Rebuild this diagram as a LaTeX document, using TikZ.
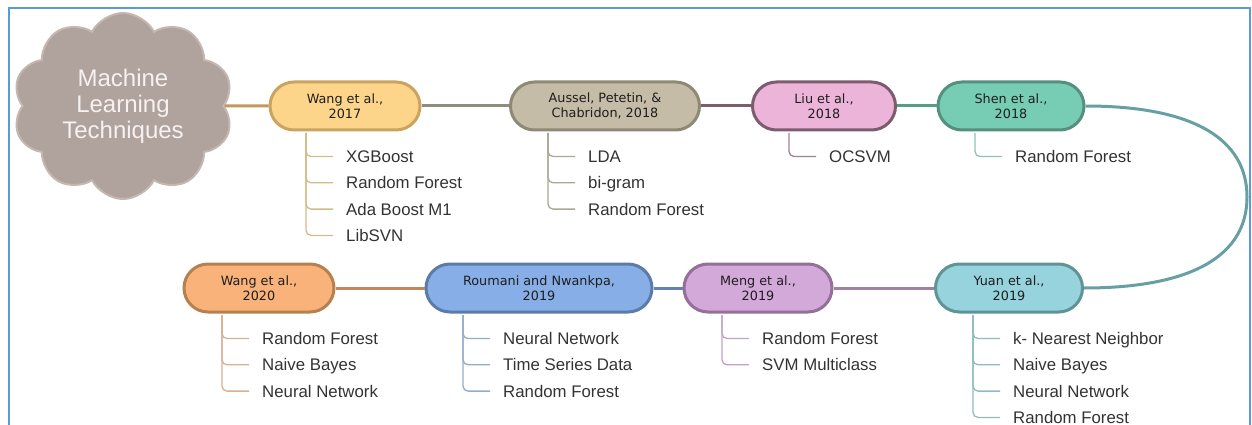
\documentclass[tikz,border=0pt]{standalone}
\usepackage{fontspec}
\setmainfont{Liberation Sans}
\newfontfamily\nodefont{DejaVu Sans}
\usetikzlibrary{shapes.misc,shapes.symbols,calc}

\definecolor{framec}{HTML}{5B9BD5}
\definecolor{cloudfill}{HTML}{B0A29D}
\definecolor{cloudedge}{HTML}{C4B7B2}
\definecolor{cloudtext}{HTML}{F6F2F1}
\definecolor{nodetext}{HTML}{1E1E1E}
\definecolor{leaftext}{HTML}{333333}
% node fills / borders
\definecolor{wAfill}{HTML}{FDD58A}\definecolor{wAedge}{HTML}{C9A461}\definecolor{wAleaf}{HTML}{D3BC88}
\definecolor{auFill}{HTML}{C4BCA7}\definecolor{auEdge}{HTML}{8D8975}\definecolor{auLeaf}{HTML}{ABA797}
\definecolor{liFill}{HTML}{ECB4D9}\definecolor{liEdge}{HTML}{7E5C70}\definecolor{liLeaf}{HTML}{9E8292}
\definecolor{shFill}{HTML}{76CDB3}\definecolor{shEdge}{HTML}{568F7E}\definecolor{shLeaf}{HTML}{8EC2B1}
\definecolor{wBfill}{HTML}{F8B27A}\definecolor{wBedge}{HTML}{B6804F}\definecolor{wBleaf}{HTML}{D6B192}
\definecolor{roFill}{HTML}{88AEE8}\definecolor{roEdge}{HTML}{5B7BA8}\definecolor{roLeaf}{HTML}{96ABCB}
\definecolor{meFill}{HTML}{D3A9D9}\definecolor{meEdge}{HTML}{946F97}\definecolor{meLeaf}{HTML}{C1A3C4}
\definecolor{yuFill}{HTML}{96D3DC}\definecolor{yuEdge}{HTML}{5F9396}\definecolor{yuLeaf}{HTML}{90BBBE}
% main line colours
\definecolor{lnA}{HTML}{C19A5B}
\definecolor{lnB}{HTML}{8E8C7A}
\definecolor{lnC}{HTML}{7E5C70}
\definecolor{lnD}{HTML}{569D86}
\definecolor{lnArc}{HTML}{66A0A2}
\definecolor{lnE}{HTML}{A380A3}
\definecolor{lnF}{HTML}{6183B3}
\definecolor{lnG}{HTML}{C0875A}

\tikzset{
  pill/.style={rounded rectangle, line width=3pt, minimum height=48, inner xsep=6,
    align=center, font=\nodefont\fontsize{12.8}{15.5}\selectfont, text=nodetext},
  mainline/.style={line width=3pt},
  leaf/.style={anchor=west, inner xsep=13, inner ysep=0, text height=12, text depth=0,
    font=\fontsize{16.8}{18}\selectfont, text=leaftext},
  branch/.style={line width=1.3pt, rounded corners=5}
}

\newcommand\mkleaves[4]{%
  \coordinate (#1-top) at ($(#1.south)+(#2,1.5)$);
  \foreach \t [count=\i] in {#4} {
    \node[leaf] (#1-\i) at ($(#1-top)+(27,{23.5+26.3*(\i-1)})$) {\t};
    \draw[branch,draw=#3] (#1-top) |- (#1-\i.west);
  }%
}

\begin{document}
\begin{tikzpicture}[x=1pt,y=-1pt]
\useasboundingbox (0,0) rectangle (1252,425);
\clip (0,0) rectangle (1252,425);
\draw[framec, line width=2pt] (8.5,8.5) rectangle (1249.5,470);

% cloud
\node[cloud, cloud puffs=10, cloud puff arc=125, aspect=1.2, fill=cloudfill, draw=cloudedge,
  line width=2pt, minimum width=220, minimum height=186, inner sep=0, text=cloudtext,
  font=\fontsize{24}{26}\selectfont, align=center] (ml) at (123,106) {Machine\\Learning\\Techniques};

% top row
\node[pill, fill=wAfill, draw=wAedge, minimum width=162] (w17) at (345,106) {Wang et al.,\\2017};
\node[pill, fill=auFill, draw=auEdge, minimum width=201] (aus) at (605,106) {Aussel, Petetin, \&\\Chabridon, 2018};
\node[pill, fill=liFill, draw=liEdge, minimum width=155] (liu) at (824,106) {Liu et al.,\\2018};
\node[pill, fill=shFill, draw=shEdge, minimum width=158] (shen) at (1011,106) {Shen et al.,\\2018};

% bottom row
\node[pill, fill=wBfill, draw=wBedge, minimum width=162] (w20) at (259,288) {Wang et al.,\\2020};
\node[pill, fill=roFill, draw=roEdge, minimum width=238] (rou) at (539,288) {Roumani and Nwankpa,\\2019};
\node[pill, fill=meFill, draw=meEdge, minimum width=160] (meng) at (758,288) {Meng et al.,\\2019};
\node[pill, fill=yuFill, draw=yuEdge, minimum width=159] (yuan) at (1009,288) {Yuan et al.,\\2019};

% main connectors
\draw[mainline, lnA] (ml.east) -- (w17.west);
\draw[mainline, lnB] (w17.east) -- (aus.west);
\draw[mainline, lnC] (aus.east) -- (liu.west);
\draw[mainline, lnD] (liu.east) -- (shen.west);
\draw[mainline, lnArc] (shen.east) .. controls (1195,106) and (1247,140) .. (1247,197)
  .. controls (1247,254) and (1195,288) .. (yuan.east);
\draw[mainline, lnE] (meng.east) -- (yuan.west);
\draw[mainline, lnF] (rou.east) -- (meng.west);
\draw[mainline, lnG] (w20.east) -- (rou.west);

% leaves
\mkleaves{w17}{-39}{wAleaf}{XGBoost,Random Forest,Ada Boost M1,LibSVN}
\mkleaves{aus}{-57}{auLeaf}{LDA,bi-gram,Random Forest}
\mkleaves{liu}{-35}{liLeaf}{OCSVM}
\mkleaves{shen}{-36}{shLeaf}{Random Forest}
\mkleaves{w20}{-37}{wBleaf}{Random Forest,Naive Bayes,Neural Network}
\mkleaves{rou}{-76}{roLeaf}{Neural Network,Time Series Data,Random Forest}
\mkleaves{meng}{-36}{meLeaf}{Random Forest,SVM Multiclass}
\mkleaves{yuan}{-36}{yuLeaf}{k- Nearest Neighbor,Naive Bayes,Neural Network,Random Forest}
\end{tikzpicture}
\end{document}
